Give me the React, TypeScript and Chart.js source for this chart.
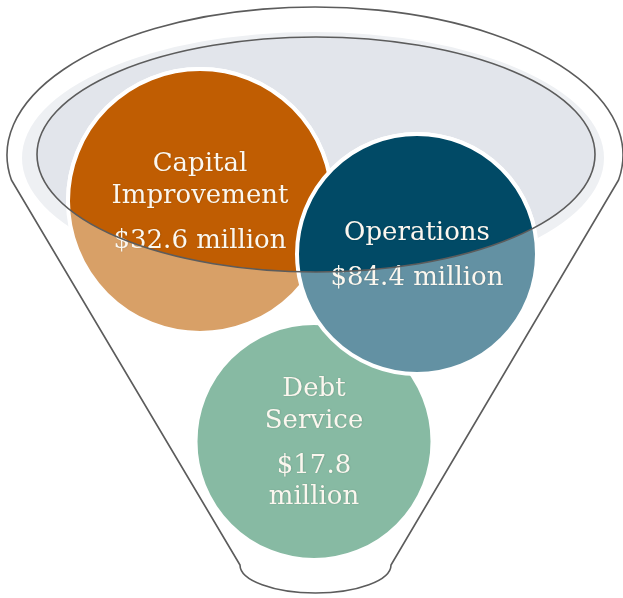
import React, { useEffect, useRef } from "react";
import { Chart, registerables } from "chart.js";

Chart.register(...registerables);

// ---- data ----
const categories = ["Capital Improvement", "Debt Service", "Operations"];
const amountsMillion = [32.6, 17.8, 84.4];
const nameLines = [["Capital", "Improvement"], ["Debt", "Service"], ["Operations"]];
const valueOnTwoLines = [false, true, false];
// bubble placement in the (hidden) 623 x 598 value space
const bubbleX = [200, 314, 417];
const bubbleY = [201, 441.5, 254];
const bubbleR = [132, 118.5, 120];

// funnel geometry in value space: [cx, cy, rx, ry]
const rimOuter = [315, 155, 308, 148];
const rimInner = [316, 154.5, 279, 117.5];
const rimHalo = [313, 158, 291, 126];
const rimJoinY = 180;
const spout = [315.5, 565, 75.5, 28]; // cx, topY, halfWidth, depth

// ---- styles ----
const lightColors = ["#D8A067", "#87BAA3", "#6391A3"];
const darkColors = ["#C05D02", "#87BAA3", "#014A66"];
const lineColor = "#5c5c5c";
const textColor = "#FBF7EF";
const FONT = '26px "DejaVu Serif"';

function px(chart: any, x: number) {
  return chart.scales.x.getPixelForValue(x);
}
function py(chart: any, y: number) {
  return chart.scales.y.getPixelForValue(y);
}
function ellipsePath(chart: any, e: number[]) {
  const ctx = chart.ctx;
  const cx = px(chart, e[0]);
  const cy = py(chart, e[1]);
  const rx = Math.abs(px(chart, e[0] + e[2]) - cx);
  const ry = Math.abs(py(chart, e[1] + e[3]) - cy);
  ctx.beginPath();
  ctx.ellipse(cx, cy, rx, ry, 0, 0, Math.PI * 2);
}

const funnelPlugin = {
  id: "funnel",
  beforeDatasetsDraw(chart: any) {
    const ctx = chart.ctx;
    ctx.save();
    // halo + basin fill
    ellipsePath(chart, rimHalo);
    ctx.fillStyle = "#EEF0F3";
    ctx.fill();
    ellipsePath(chart, rimInner);
    ctx.fillStyle = "#E2E5EB";
    ctx.fill();

    // funnel outline
    const [cx0, cy0, rx0, ry0] = rimOuter;
    const cx = px(chart, cx0);
    const cy = py(chart, cy0);
    const rx = Math.abs(px(chart, cx0 + rx0) - cx);
    const ry = Math.abs(py(chart, cy0 + ry0) - cy);
    const a = Math.asin((rimJoinY - cy0) / ry0);
    const sx = px(chart, spout[0]);
    const sTop = py(chart, spout[1]);
    const sHalf = Math.abs(px(chart, spout[0] + spout[2]) - sx);
    const sDepth = Math.abs(py(chart, spout[1] + spout[3]) - sTop);
    ctx.beginPath();
    ctx.ellipse(cx, cy, rx, ry, 0, Math.PI - a, a, false);
    ctx.lineTo(sx + sHalf, sTop);
    ctx.ellipse(sx, sTop, sHalf, sDepth, 0, 0, Math.PI, false);
    ctx.closePath();
    ctx.strokeStyle = lineColor;
    ctx.lineWidth = 1.6;
    ctx.lineJoin = "round";
    ctx.stroke();
    ctx.restore();
  },
  beforeDatasetDraw(chart: any, args: any) {
    if (args.index === 0) {
      chart.ctx.save();
      ellipsePath(chart, rimInner);
      chart.ctx.clip();
    }
  },
  afterDatasetDraw(chart: any, args: any) {
    if (args.index === 0) chart.ctx.restore();
  },
  afterDatasetsDraw(chart: any) {
    const ctx = chart.ctx;
    const meta = chart.getDatasetMeta(1);
    ctx.save();
    ctx.font = FONT;
    ctx.textAlign = "center";
    ctx.textBaseline = "alphabetic";
    ctx.fillStyle = textColor;
    ctx.shadowColor = "rgba(0,0,0,0.18)";
    ctx.shadowBlur = 1.5;
    ctx.shadowOffsetX = 0.5;
    ctx.shadowOffsetY = 0.5;
    categories.forEach((_, i) => {
      const el = meta.data[i];
      const valueText = `$${amountsMillion[i].toFixed(1)} million`;
      const values = valueOnTwoLines[i] ? valueText.split(" ") : [valueText];
      const lines: string[] = [];
      const gaps: number[] = [];
      nameLines[i].forEach((l, k) => {
        if (k > 0) gaps.push(32);
        lines.push(l);
      });
      values.forEach((l, k) => {
        gaps.push(k === 0 ? 45 : 31);
        lines.push(l);
      });
      const span = gaps.reduce((s, g) => s + g, 0);
      let y = el.y + 8 - span / 2;
      lines.forEach((l, k) => {
        if (k > 0) y += gaps[k - 1];
        ctx.fillText(l, el.x, y);
      });
    });
    ctx.restore();

    ctx.save();
    ellipsePath(chart, rimInner);
    ctx.strokeStyle = lineColor;
    ctx.lineWidth = 1.6;
    ctx.stroke();
    ctx.restore();
  },
};

export default function App() {
  const ref = useRef<HTMLCanvasElement | null>(null);
  useEffect(() => {
    if (!ref.current) return;
    const pts = categories.map((_, i) => ({ x: bubbleX[i], y: bubbleY[i], r: bubbleR[i] }));
    const chart = new Chart(ref.current, {
      type: "bubble",
      data: {
        datasets: [
          {
            label: "inside funnel",
            data: pts,
            backgroundColor: darkColors,
            borderColor: "#ffffff",
            borderWidth: 4,
            clip: false,
          } as any,
          {
            label: "below rim",
            data: pts,
            backgroundColor: lightColors,
            borderColor: "#ffffff",
            borderWidth: 4,
            clip: false,
          } as any,
        ],
      },
      options: {
        responsive: false,
        animation: false,
        devicePixelRatio: 1,
        events: [],
        layout: { padding: 0, autoPadding: false },
        plugins: { legend: { display: false }, tooltip: { enabled: false } },
        scales: {
          x: { type: "linear", min: 0, max: 623, display: false },
          y: { type: "linear", min: 0, max: 598, reverse: true, display: false },
        },
      } as any,
      plugins: [funnelPlugin],
    });
    return () => chart.destroy();
  }, []);
  return (
    <div style={{ position: "fixed", left: 0, top: 0, width: 623, height: 598, background: "#fff" }}>
      <canvas ref={ref} width={623} height={598} />
    </div>
  );
}
